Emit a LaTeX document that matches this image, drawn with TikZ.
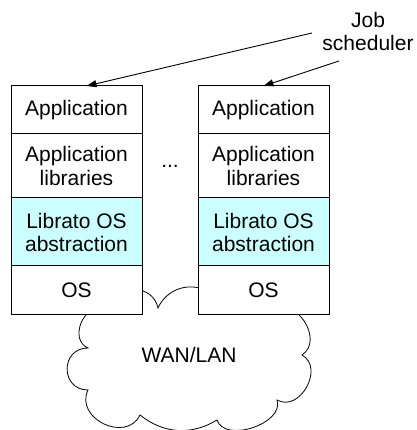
\documentclass[tikz,border=0pt]{standalone}
\usepackage{fontspec}
\setmainfont{Liberation Sans}
\usetikzlibrary{positioning, arrows.meta}
\definecolor{layerCyan}{HTML}{CCFFFF}

\begin{document}
\begin{tikzpicture}[x=1pt, y=1pt,
    layer/.style={draw, fill=white, minimum width=131pt, inner sep=0pt, outer sep=0pt,
        align=center, font=\fontsize{21}{23}\selectfont, line width=1pt},
    label/.style={font=\fontsize{21}{23}\selectfont, inner sep=0pt},
    arrowline/.style={-{Triangle[length=10pt, width=7pt]}, line width=0.9pt}]
    \useasboundingbox (0,0) rectangle (416,430);
    % network cloud, its top lies under the two stacks
    \draw[fill=white, line width=0.8pt] (104,120)
        to[bend right=90, looseness=1.33] (88,82)
        to[bend right=90, looseness=1.7] (88,40)
        to[bend right=90, looseness=1.4] (140,15)
        to[bend right=35] (217,10)
        to[bend right=90, looseness=1] (277,30)
        to[bend right=90, looseness=1.3] (302,75)
        to[bend right=90, looseness=1.3] (272,120)
        -- (205,140)
        to[bend right=45] (158,122)
        to[bend right=40] (135,140)
        -- cycle;
    \node[label, anchor=base] (net) at (189,67) {WAN/LAN};
    % left stack
    \node[layer, minimum height=48pt] (appA) at (76.5,320) {Application};
    \node[layer, minimum height=64pt, below=0pt of appA] (libA) {Application\\libraries};
    \node[layer, minimum height=68pt, fill=layerCyan, below=0pt of libA] (absA) {Librato OS\\abstraction};
    \node[layer, minimum height=49pt, below=0pt of absA] (osA) {OS};
    % right stack
    \node[layer, minimum height=48pt, right=56pt of appA] (appB) {Application};
    \node[layer, minimum height=64pt, below=0pt of appB] (libB) {Application\\libraries};
    \node[layer, minimum height=68pt, fill=layerCyan, below=0pt of libB] (absB) {Librato OS\\abstraction};
    \node[layer, minimum height=49pt, below=0pt of absB] (osB) {OS};
    \node[label, anchor=base] (dots) at (170,262) {...};
    % scheduler
    \node[label, align=center, anchor=north] (sched) at (368,418) {Job\\scheduler};
    \coordinate (schedA) at (312,397);
    \coordinate (schedB) at (339,369);
    \draw[arrowline] (schedA) -- ([xshift=10pt]appA.north);
    \draw[arrowline] (schedB) -- (appB.north);
\end{tikzpicture}
\end{document}
